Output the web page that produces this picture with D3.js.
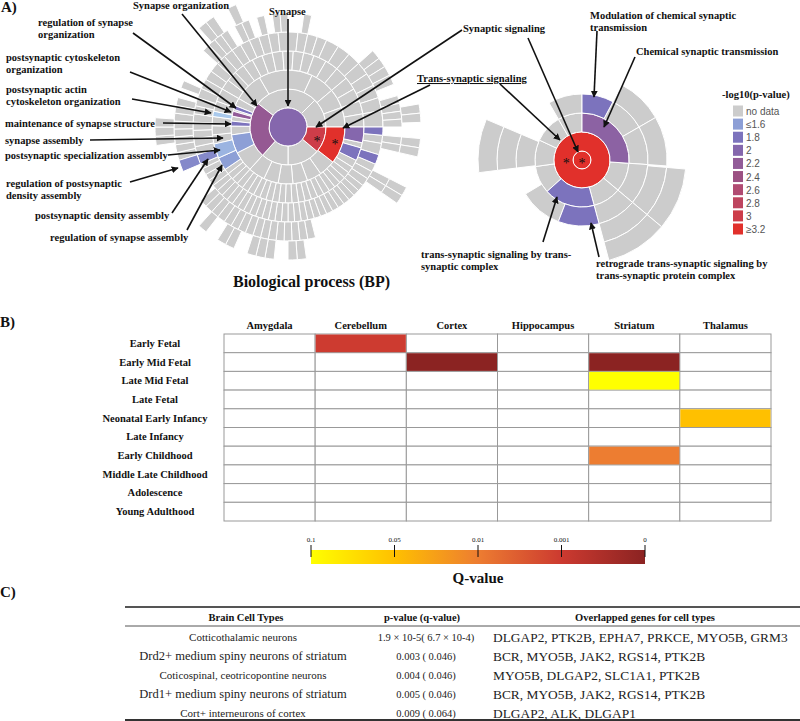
<!DOCTYPE html>
<html>
<head>
<meta charset="utf-8">
<script src="https://cdn.jsdelivr.net/npm/d3@7"></script>
<style>
body { margin: 0; background: #fff; }
svg { display: block; }
text { font-family: "Liberation Serif", "Times New Roman", serif; fill: #111; }
</style>
</head>
<body>
<svg id="fig" width="800" height="721"></svg>
<script>
// ---- A) sunburst colour legend, -log10(p-value)
const legendLabels = ["no data", "≤1.6", "1.8", "2", "2.2", "2.4", "2.6", "2.8", "3", "≥3.2"];
const legendValues = [null, 1.6, 1.8, 2, 2.2, 2.4, 2.6, 2.8, 3, 3.2];
const pDomain = [1.4, 1.6, 1.8, 2, 2.2, 2.4, 2.6, 2.8, 3, 3.2];
const pColors = ["#a9c9ec", "#8d9fd6", "#7c73bd", "#8567ad", "#925c98", "#9c5183", "#b14b72", "#be455f", "#cd3d49", "#e1302b"];

// ---- A) left sunburst (BP): runs of adjacent grey terms per ring, angles in degrees clockwise from 12 o'clock
const bpRing1 = [[308, 360, 405, 450], [130, 180, 222]];
const bpRing2 = [[300, 330, 360, 385, 410, 430, 450], [128, 145, 160, 175, 190, 205, 222, 243], [262, 271], [276, 281], [286, 288], [292, 300]];
const bpRing3 = [[300, 308, 316, 324, 332, 340, 348, 356, 364, 372, 380, 390, 400, 410, 420, 430, 440, 450], [102, 106],
  [116, 122, 127, 132, 137, 142, 147, 152, 157, 162, 167, 172, 177, 182, 187, 192, 197, 202, 207, 212, 217, 222, 227, 232, 236],
  [257, 264, 271, 278], [282, 290, 300]];
const bpRing4 = [[300, 306, 312, 318, 324, 330, 336, 342, 348, 354, 360, 366, 372, 378, 384, 392, 400, 408, 416, 424, 432, 440, 450],
  [95, 100, 107],
  [113, 118, 123, 128, 132, 136, 140, 144, 148, 152, 156, 160, 164, 168, 172, 176, 180, 184, 188, 192, 196, 200, 204, 208, 212, 216, 220, 224, 228, 232, 236, 240, 244, 247],
  [253, 258, 263, 268, 273, 278, 283, 288, 294, 300]];
const bpRing5 = [[312, 316, 320, 324, 328], [332, 336, 340], [344, 348], [352, 356, 360], [368, 372],
  [408, 413, 418, 423, 428], [434, 438, 442, 446, 450], [95, 99, 103], [117, 121, 125],
  [166, 170, 174, 178, 182, 186, 190, 194, 198, 202, 206, 210, 214, 218, 222, 226, 230],
  [253, 257, 261, 265, 269, 273, 277, 281, 285], [290, 294]];
const bpRing6 = [[318, 322, 326], [333, 337], [80, 84, 88], [95, 99, 103], [117, 121, 125],
  [172, 176, 180], [186, 190, 194, 198], [204, 208, 212], [218, 222], [262, 266, 270, 274]];
// coloured terms: [ring, start, end, -log10 p]
const bpColored = [
  [0, 0, 360, 2.0],      // Synapse
  [1, 222, 308, 2.25],   // Synapse organization
  [1, 90, 130, 3.0],     // Synaptic signaling
  [2, 90, 128, 3.2],     // Trans-synaptic signaling
  [2, 243, 262, 1.6],    // synapse assembly
  [2, 271, 276, 1.8],    // maintenance of synapse structure
  [2, 281, 286, 2.2],    // postsynaptic cytoskeleton organization
  [2, 288, 292, 1.8],    // regulation of synapse organization
  [3, 90, 102, 2.0],
  [3, 106, 116, 1.8],
  [3, 236, 246, 1.6],    // postsynaptic density assembly
  [3, 246, 257, 1.5],    // postsynaptic specialization assembly
  [3, 278, 282, 1.4],    // postsynaptic actin cytoskeleton organization
  [4, 90, 95, 1.8],
  [4, 107, 113, 1.8],
  [4, 247, 253, 1.7],    // regulation of postsynaptic density assembly
  [5, 247, 253, 1.7]
];
const bpStars = [[1.65, 112], [2.58, 107]];

// ---- A) right sunburst (synaptic signaling)
const ssRing2 = [[94, 130, 165], [228, 262, 295, 330, 360]];
const ssRing3 = [[28, 60, 94, 130, 165], [201, 239], [263, 293], [330, 360]];
const ssRing4 = [[28, 60, 94], [95, 130, 165], [263, 293]];
const ssRing5 = [[95, 130, 165], [263, 293]];
const ssColored = [
  [0, 0, 360, 3.2],    // Synaptic signaling
  [1, 0, 360, 3.2],    // Trans-synaptic signaling
  [2, 0, 94, 2.1],     // Chemical synaptic transmission
  [2, 165, 228, 1.8],  // trans-synaptic signaling by trans-synaptic complex
  [3, 0, 28, 1.8],     // Modulation of chemical synaptic transmission
  [3, 165, 201, 1.8]   // retrograde trans-synaptic signaling ...
];
const ssStars = [[0, 0], [1.35, 270]];

// ---- B) heatmap
const regions = ["Amygdala", "Cerebellum", "Cortex", "Hippocampus", "Striatum", "Thalamus"];
const stages = ["Early Fetal", "Early Mid Fetal", "Late Mid Fetal", "Late Fetal", "Neonatal Early Infancy",
  "Late Infancy", "Early Childhood", "Middle Late Childhood", "Adolescence", "Young Adulthood"];
const sigCells = [
  ["Early Fetal", "Cerebellum", 0.0012],
  ["Early Mid Fetal", "Cortex", 0],
  ["Early Mid Fetal", "Striatum", 0],
  ["Late Mid Fetal", "Striatum", 0.1],
  ["Neonatal Early Infancy", "Thalamus", 0.05],
  ["Early Childhood", "Striatum", 0.01]
];
const qTicks = [0.1, 0.05, 0.01, 0.001, 0];
const qTickLabels = ["0.1", "0.05", "0.01", "0.001", "0"];
const qColors = ["#ffff00", "#ffc000", "#ed7d31", "#cc3a30", "#8b2322"];

// ---- C) table
const cellTypes = ["Cotticothalamic neurons", "Drd2+ medium spiny neurons of striatum", "Coticospinal, ceotricopontine neurons",
  "Drd1+ medium spiny neurons of striatum", "Cort+ interneurons of cortex"];
const cellTypeSize = [11, 12.5, 11, 12.5, 11];
const pqValues = ["1.9 × 10-5( 6.7 × 10-4)", "0.003 ( 0.046)", "0.004 ( 0.046)", "0.005 ( 0.046)", "0.009 ( 0.064)"];
const overlapGenes = ["DLGAP2, PTK2B, EPHA7, PRKCE, MYO5B, GRM3", "BCR, MYO5B, JAK2, RGS14, PTK2B",
  "MYO5B, DLGAP2, SLC1A1, PTK2B", "BCR, MYO5B, JAK2, RGS14, PTK2B", "DLGAP2, ALK, DLGAP1"];

const svg = d3.select("#fig");
const deg = d3.scaleLinear().domain([0, 360]).range([0, 2 * Math.PI]);
const pColor = d3.scaleLinear().domain(pDomain).range(pColors);
const noData = "#cccccc";

const defs = svg.append("defs");
defs.append("marker").attr("id", "ah").attr("viewBox", "0 0 10 10")
  .attr("refX", 9).attr("refY", 5).attr("markerWidth", 7).attr("markerHeight", 7)
  .attr("markerUnits", "userSpaceOnUse").attr("orient", "auto")
  .append("path").attr("d", "M0,0L10,5L0,10z").attr("fill", "#111");

function runsToCells(runs, ring) {
  let cells = [];
  runs.forEach(run => {
    for (let i = 0; i < run.length - 1; i++) cells.push([ring, run[i], run[i + 1], null]);
  });
  return cells;
}

function drawSunburst(cx, cy, cells, rScale, stars) {
  let g = svg.append("g").attr("transform", `translate(${cx},${cy})`);
  let arc = d3.arc()
    .innerRadius(d => rScale(d[0]))
    .outerRadius(d => rScale(d[0] + 1))
    .startAngle(d => deg(d[1]))
    .endAngle(d => deg(d[2]));
  g.selectAll("path").data(cells).join("path")
    .attr("d", arc)
    .attr("fill", d => d[3] == null ? noData : pColor(d[3]))
    .attr("stroke", "#fff").attr("stroke-width", 1);
  g.selectAll("text.star").data(stars).join("text")
    .attr("class", "star")
    .attr("x", d => rScale(d[0]) * Math.sin(deg(d[1])))
    .attr("y", d => -rScale(d[0]) * Math.cos(deg(d[1])))
    .attr("dy", "0.55em")
    .attr("text-anchor", "middle").attr("font-size", 14)
    .text("*");
}

const bpRadius = d3.scaleLinear().domain([0, 7]).range([0, 133]);
const bpCells = [].concat(runsToCells(bpRing1, 1), runsToCells(bpRing2, 2), runsToCells(bpRing3, 3),
  runsToCells(bpRing4, 4), runsToCells(bpRing5, 5), runsToCells(bpRing6, 6), bpColored);
drawSunburst(288, 127, bpCells, bpRadius, bpStars);

const ssRadius = d3.scaleLinear().domain([0, 1, 6]).range([0, 9, 104]);
const ssCells = [].concat(runsToCells(ssRing2, 2), runsToCells(ssRing3, 3), runsToCells(ssRing4, 4),
  runsToCells(ssRing5, 5), ssColored);
drawSunburst(582, 160, ssCells, ssRadius, ssStars);

// labels and arrows of panel A
const labelsA = [
  { t: ["Synapse organization"], x: 133, y: 9, a: [[182, 14, 257, 106]] },
  { t: ["Synapse"], x: 269, y: 15, a: [[288, 19, 288, 106]] },
  { t: ["regulation of synapse", "organization"], x: 38, y: 26, a: [[133, 33, 236, 108]] },
  { t: ["postsynaptic cytoskeleton", "organization"], x: 6, y: 61, a: [[130, 72, 231, 112]] },
  { t: ["postsynaptic actin", "cytoskeleton organization"], x: 6, y: 93, a: [[132, 99, 211, 113]] },
  { t: ["maintenance of synapse structure"], x: 5, y: 127, a: [[163, 123, 231, 124]] },
  { t: ["synapse assembly"], x: 5, y: 144, a: [[90, 140, 223, 138]] },
  { t: ["postsynaptic specialization assembly"], x: 5, y: 159, a: [[168, 155, 220, 150]] },
  { t: ["regulation of postsynaptic", "density assembly"], x: 6, y: 187, a: [[130, 182, 178, 168]] },
  { t: ["postsynaptic density assembly"], x: 35, y: 219, a: [[172, 213, 208, 159]] },
  { t: ["regulation of synapse assembly"], x: 50, y: 241, a: [[187, 230, 222, 165]] },
  { t: ["Synaptic signaling"], x: 463, y: 32, a: [[462, 30, 316, 127], [528, 38, 578, 152]] },
  { t: ["Trans-synaptic signaling"], x: 417, y: 82, u: true, a: [[430, 85, 343, 128], [500, 84, 560, 140]] },
  { t: ["Modulation of chemical synaptic", "transmission"], x: 590, y: 19, a: [[597, 31, 594, 97]] },
  { t: ["Chemical synaptic transmission"], x: 636, y: 55, a: [[635, 57, 604, 127]] },
  { t: ["trans-synaptic signaling by trans-", "synaptic complex"], x: 421, y: 258, a: [[543, 242, 557, 197]] },
  { t: ["retrograde trans-synaptic signaling by", "trans-synaptic protein complex"], x: 596, y: 267, a: [[599, 257, 591, 223]] }
];

labelsA.forEach(l => {
  l.a.forEach(s => {
    svg.append("line").attr("x1", s[0]).attr("y1", s[1]).attr("x2", s[2]).attr("y2", s[3])
      .attr("stroke", "#111").attr("stroke-width", 1.6).attr("marker-end", "url(#ah)");
  });
  let t = svg.append("text").attr("x", l.x).attr("y", l.y)
    .attr("font-size", 10.5).attr("font-weight", "bold");
  if (l.u) t.attr("text-decoration", "underline");
  t.selectAll("tspan").data(l.t).join("tspan")
    .attr("x", l.x).attr("dy", (d, i) => i ? 11.8 : 0).text(d => d);
});

svg.append("text").attr("x", 1).attr("y", 12).attr("font-size", 15).attr("font-weight", "bold").text("A)");
svg.append("text").attr("x", 233).attr("y", 287).attr("font-size", 16).attr("font-weight", "bold").text("Biological process (BP)");

// legend
svg.append("text").attr("x", 722).attr("y", 98).attr("font-size", 10.5).attr("font-weight", "bold").text("-log10(p-value)");
const legY = d3.scalePoint().domain(legendLabels).range([111, 229]);
const leg = svg.append("g").selectAll("g").data(legendLabels).join("g")
  .attr("transform", d => `translate(733,${legY(d)})`);
leg.append("rect").attr("x", 0).attr("y", -5.5).attr("width", 10).attr("height", 11)
  .attr("fill", (d, i) => legendValues[i] == null ? noData : pColor(legendValues[i]));
leg.append("text").attr("x", 13).attr("y", 4).attr("font-size", 10)
  .style("font-family", "'Liberation Sans', Arial, sans-serif").style("fill", "#555").text(d => d);

// ---- B) heatmap
svg.append("text").attr("x", 0).attr("y", 327).attr("font-size", 15).attr("font-weight", "bold").text("B)");
const hx = d3.scaleBand().domain(regions).range([224, 771]);
const hy = d3.scaleBand().domain(stages).range([334, 521]);
const qColor = d3.scaleLinear().domain(qTicks).range(qColors);

const allCells = [];
stages.forEach(s => regions.forEach(r => allCells.push([s, r])));
svg.append("g").selectAll("rect").data(allCells).join("rect")
  .attr("x", d => hx(d[1])).attr("y", d => hy(d[0]))
  .attr("width", hx.bandwidth()).attr("height", hy.bandwidth())
  .attr("fill", "#fff").attr("stroke", "#999").attr("stroke-width", 1);
svg.append("g").selectAll("rect").data(sigCells).join("rect")
  .attr("x", d => hx(d[1]) + 0.5).attr("y", d => hy(d[0]) + 0.5)
  .attr("width", hx.bandwidth() - 1).attr("height", hy.bandwidth() - 1)
  .attr("fill", d => qColor(d[2]));

svg.append("g").selectAll("text").data(regions).join("text")
  .attr("x", d => hx(d) + hx.bandwidth() / 2).attr("y", 329)
  .attr("text-anchor", "middle").attr("font-size", 10.5).attr("font-weight", "bold").text(d => d);
svg.append("g").selectAll("text").data(stages).join("text")
  .attr("x", 155).attr("y", d => hy(d) + hy.bandwidth() / 2 + 3.5)
  .attr("text-anchor", "middle").attr("font-size", 10.5).attr("font-weight", "bold").text(d => d);

// colour bar
const cbx = d3.scalePoint().domain(qTickLabels).range([311, 645]);
const grad = defs.append("linearGradient").attr("id", "qgrad");
grad.selectAll("stop").data(qTickLabels).join("stop")
  .attr("offset", d => (cbx(d) - 311) / 334)
  .attr("stop-color", (d, i) => qColor(qTicks[i]));
svg.append("rect").attr("x", 311).attr("y", 550).attr("width", 334).attr("height", 14).attr("fill", "url(#qgrad)");
svg.append("g").selectAll("line").data(qTickLabels).join("line")
  .attr("x1", d => cbx(d)).attr("x2", d => cbx(d)).attr("y1", 545).attr("y2", 557)
  .attr("stroke", "#111").attr("stroke-width", 1);
svg.append("g").selectAll("text").data(qTickLabels).join("text")
  .attr("x", d => cbx(d)).attr("y", 542).attr("text-anchor", "middle").attr("font-size", 7).text(d => d);
svg.append("text").attr("x", 478).attr("y", 583).attr("text-anchor", "middle")
  .attr("font-size", 15).attr("font-weight", "bold").text("Q-value");

// ---- C) table
svg.append("text").attr("x", 0).attr("y", 597).attr("font-size", 15).attr("font-weight", "bold").text("C)");
svg.append("line").attr("x1", 125).attr("x2", 800).attr("y1", 607).attr("y2", 607).attr("stroke", "#555").attr("stroke-width", 2);
svg.append("line").attr("x1", 125).attr("x2", 800).attr("y1", 626).attr("y2", 626).attr("stroke", "#555").attr("stroke-width", 1);
svg.append("line").attr("x1", 125).attr("x2", 800).attr("y1", 720).attr("y2", 720).attr("stroke", "#333").attr("stroke-width", 2);
const heads = [["Brain Cell Types", 246], ["p-value (q-value)", 422], ["Overlapped genes for cell types", 645]];
svg.append("g").selectAll("text").data(heads).join("text")
  .attr("x", d => d[1]).attr("y", 621).attr("text-anchor", "middle")
  .attr("font-size", 10.5).attr("font-weight", "bold").text(d => d[0]);
const ry = d3.scalePoint().domain(cellTypes).range([637, 713]);
svg.append("g").selectAll("text").data(cellTypes).join("text")
  .attr("x", 243).attr("y", d => ry(d) + 4).attr("text-anchor", "middle")
  .attr("font-size", (d, i) => cellTypeSize[i]).style("fill", "#222").text(d => d);
svg.append("g").selectAll("text").data(pqValues).join("text")
  .attr("x", 426).attr("y", (d, i) => ry(cellTypes[i]) + 4).attr("text-anchor", "middle")
  .attr("font-size", 10.5).style("fill", "#222").text(d => d);
svg.append("g").selectAll("text").data(overlapGenes).join("text")
  .attr("x", 493).attr("y", (d, i) => ry(cellTypes[i]) + 4.5)
  .attr("font-size", 13.4).style("fill", "#222").text(d => d);
</script>
</body>
</html>
